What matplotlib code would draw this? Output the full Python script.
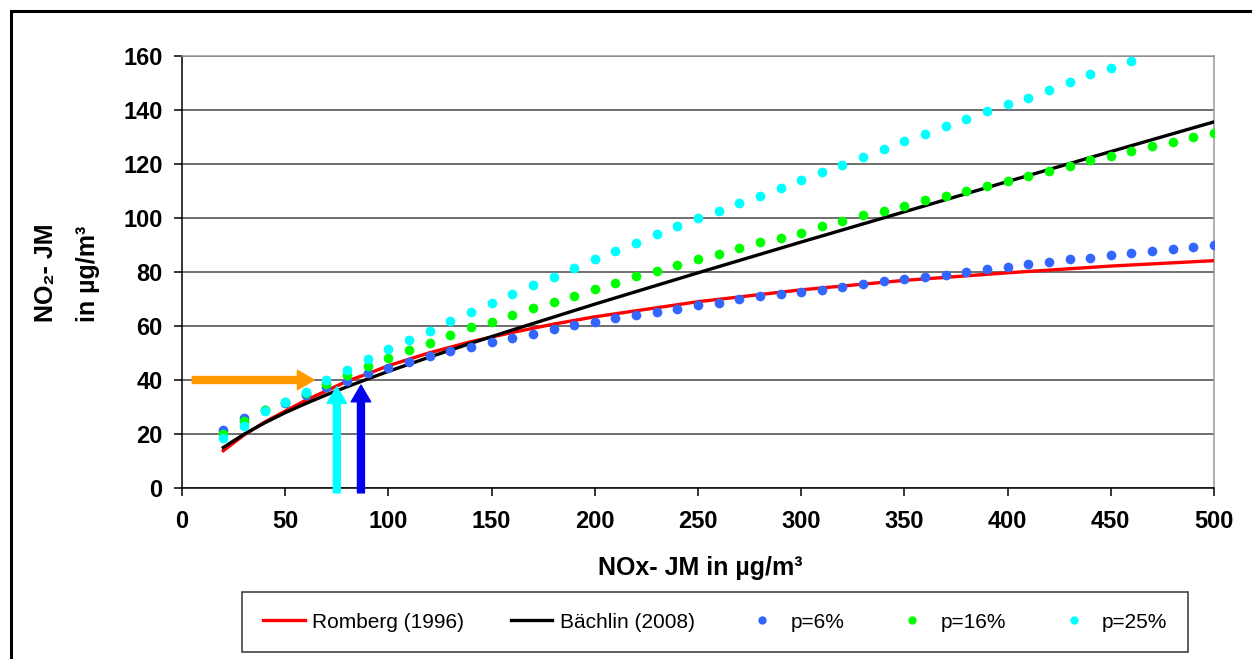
import numpy as np
import matplotlib.pyplot as plt
from matplotlib.patches import FancyArrowPatch, Rectangle, ArrowStyle

plt.rcParams['font.family'] = ['Liberation Sans', 'DejaVu Sans']

# NOx concentrations of the dot series
nox = [20, 30, 40, 50, 60, 70, 80, 90, 100, 110, 120, 130, 140, 150, 160, 170, 180, 190, 200,
       210, 220, 230, 240, 250, 260, 270, 280, 290, 300, 310, 320, 330, 340, 350, 360, 370, 380,
       390, 400, 410, 420, 430, 440, 450, 460, 470, 480, 490, 500]

p6 = [21.5, 26, 29, 31.5, 34.5, 37.4, 39.7, 42.6, 44.4, 46.7, 48.9, 50.7, 52.2, 54.1, 55.6, 57,
      58.9, 60.4, 61.5, 63, 64.1, 65.2, 66.3, 67.8, 68.5, 70, 71, 72, 72.5, 73.5, 74.5, 75.5,
      76.5, 77.5, 78, 79, 80, 81, 81.9, 82.9, 83.7, 84.8, 85.2, 86.3, 87, 87.8, 88.5, 89.3, 90]
p16 = [20, 24.8, 29, 31.8, 35, 38.5, 42, 45, 48, 51.1, 53.7, 56.7, 59.6, 61.5, 64.1, 66.7, 68.9,
       71.1, 73.7, 75.9, 78.5, 80.4, 82.6, 84.7, 86.5, 89, 91, 92.5, 94.5, 97, 99, 101, 102.5,
       104.5, 106.5, 108, 110, 112, 113.7, 115.6, 117.4, 119.3, 121.5, 123, 124.8, 126.7, 128,
       130, 131.5]
p25_x = nox[:45]
p25 = [18.5, 23, 28.5, 32, 35.5, 40, 43.7, 47.8, 51.5, 54.8, 58.1, 61.8, 65.2, 68.5, 71.8, 75.2,
       78.2, 81.5, 84.7, 87.8, 90.8, 94, 97, 100, 102.5, 105.5, 108, 111, 114, 117, 119.5, 122.5,
       125.5, 128.5, 131, 134, 136.5, 139.5, 142.2, 144.4, 147.4, 150.4, 153.3, 155.5, 158]

# curves
curve_x = [20, 30, 40, 50, 60, 70, 80, 90, 100, 120, 140, 160, 180, 200, 250, 300, 350, 400, 450, 500]
romberg = [13.8, 19.6, 24.4, 28.5, 32.5, 36, 39.6, 42.3, 45.3, 50.1, 54.2, 57.6, 60.7, 63.4,
           69, 73.4, 76.9, 79.7, 82.2, 84.2]
baechlin = [15, 19.9, 24.1, 27.9, 31.3, 34.5, 37.5, 40.4, 43.2, 48.5, 53.6, 58.5, 63.3, 68.1,
            79.7, 91.1, 102.3, 113.5, 124.6, 135.6]

W, H = 1252, 659
fig = plt.figure(figsize=(W / 100, H / 100), dpi=100)
ax = fig.add_axes([182 / W, 1 - 488 / H, (1214 - 182) / W, (488 - 56) / H])

ax.plot(curve_x, romberg, color='#FF0000', lw=2.4, label='Romberg (1996)', zorder=3)
ax.plot(curve_x, baechlin, color='black', lw=2.4, label='Bächlin (2008)', zorder=4)
ax.plot(nox, p6, 'o', color='#3366FF', ms=7, mew=0, label='p=6%', zorder=5)
ax.plot(nox, p16, 'o', color='#00FF00', ms=7, mew=0, label='p=16%', zorder=6)
ax.plot(p25_x, p25, 'o', color='#00FFFF', ms=7, mew=0, label='p=25%', zorder=7)

# arrows
style = ArrowStyle.Simple(head_length=12, head_width=14, tail_width=5)
arrows = [((5, 40), (64, 40), '#FF9900'),
          ((75, -1.8), (75, 37.5), '#00FFFF'),
          ((86.7, -1.8), (86.7, 38.1), '#0000EE')]
for a, b, c in arrows:
    ax.add_patch(FancyArrowPatch(a, b, arrowstyle=style, mutation_scale=1, color=c,
                                 shrinkA=0, shrinkB=0, clip_on=False, zorder=8))

ax.set_xlim(0, 500)
ax.set_ylim(0, 160)
ax.set_xticks(np.arange(0, 501, 50))
ax.set_yticks(np.arange(0, 161, 20))
ax.grid(axis='y', color='#484848', lw=1.1)
ax.set_axisbelow(True)
ax.spines['left'].set_color('black')
ax.spines['bottom'].set_color('black')
ax.spines['top'].set_color('#999999')
ax.spines['right'].set_color('#999999')
for s in ax.spines.values():
    s.set_linewidth(1.1)
ax.tick_params(direction='out', length=6, width=1.1, color='black', pad=8)
ax.tick_params(axis='x', pad=10)
for lab in ax.get_xticklabels() + ax.get_yticklabels():
    lab.set_fontsize(17)
    lab.set_fontweight('bold')

fig.text(700 / W, 1 - 568 / H, 'NOx- JM in µg/m³', ha='center', va='center',
         fontsize=18, fontweight='bold')
fig.text(46 / W, 1 - 322 / H, 'NO₂- JM', rotation=90, ha='center', va='bottom',
         fontsize=18, fontweight='bold')
fig.text(88 / W, 1 - 322 / H, 'in µg/m³', rotation=90, ha='center', va='bottom',
         fontsize=18, fontweight='bold')

leg = fig.legend(loc='center', bbox_to_anchor=(715 / W, 1 - 622 / H), ncol=5, fontsize=15,
                 frameon=True, fancybox=False, edgecolor='black', handlelength=2.0,
                 handletextpad=0.35, columnspacing=2.25, borderpad=1.0, numpoints=1)
leg.get_frame().set_linewidth(1.1)
for h in leg.legend_handles[2:]:
    h.set_markersize(6)

# outer frame
fig.patches.append(Rectangle((11 / W, -0.1), 1.2, 1 - 11 / H + 0.1, transform=fig.transFigure,
                             fill=False, edgecolor='black', lw=2.2))

fig.savefig('out.png', dpi=100)
